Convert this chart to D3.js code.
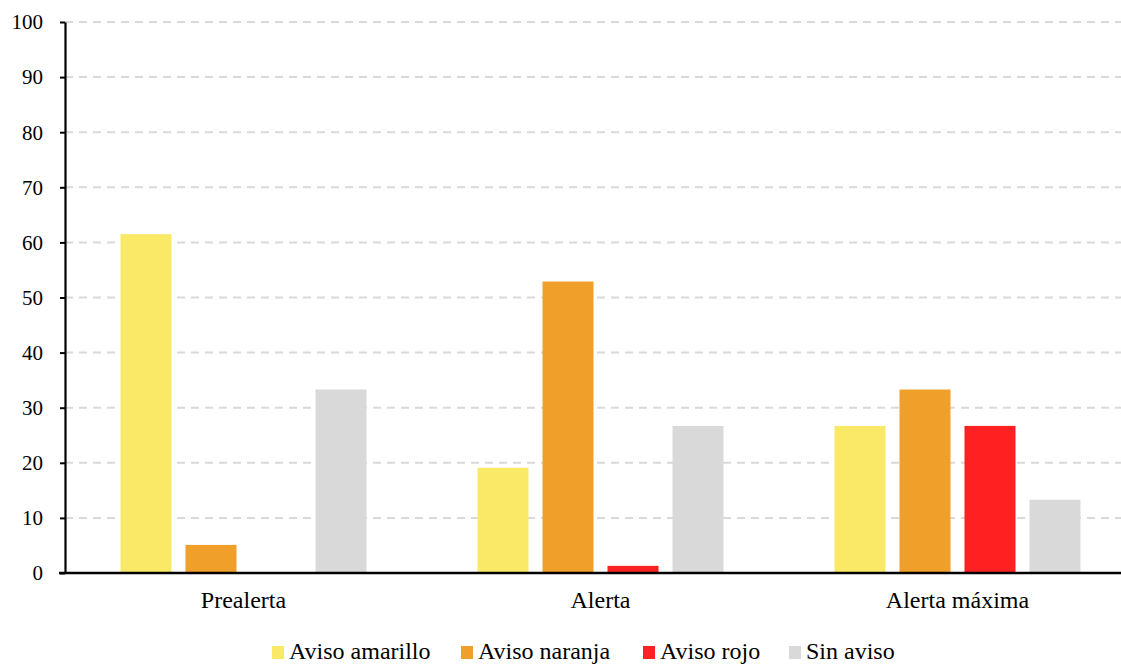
<!DOCTYPE html>
<html>
<head>
<meta charset="utf-8">
<script src="https://cdn.jsdelivr.net/npm/d3@7"></script>
</head>
<body style="margin:0">
<svg id="chart" width="1121" height="664"></svg>
<script>
// Alert levels (x categories)
const categories = ["Prealerta", "Alerta", "Alerta máxima"];

// Warning types (series) and their colours
const series = ["Aviso amarillo", "Aviso naranja", "Aviso rojo", "Sin aviso"];
const seriesColors = ["#F9E966", "#F0A02A", "#FF2121", "#D9D9D9"];

// Percentage values per series, in category order
const avisoAmarillo = [61.5, 19.1, 26.7];
const avisoNaranja  = [5.1, 52.9, 33.3];
const avisoRojo     = [0, 1.3, 26.7];
const sinAviso      = [33.3, 26.7, 13.3];
const seriesValues = [avisoAmarillo, avisoNaranja, avisoRojo, sinAviso];

// Y axis ticks
const yTicks = [0, 10, 20, 30, 40, 50, 60, 70, 80, 90, 100];

// Legend entry offsets along the bottom row
const legendX = [272, 461, 643, 789];

const FONT = "Liberation Serif";

const svg = d3.select("#chart");
const margin = { left: 65, top: 22, bottom: 573 };
const plotRight = 1136;   // last category band runs past the visible edge

const x0 = d3.scaleBand().domain(categories).range([margin.left, plotRight]);
const x1 = d3.scaleBand().domain(series)
  .range([55.5, x0.bandwidth() - 55.5])
  .paddingInner(14 / 65);
const y = d3.scaleLinear().domain([0, 100]).range([margin.bottom, margin.top]);

// Dashed horizontal gridlines
svg.append("g")
  .selectAll("line")
  .data(yTicks.filter(d => d > 0))
  .join("line")
  .attr("x1", margin.left).attr("x2", 1121)
  .attr("y1", d => y(d)).attr("y2", d => y(d))
  .attr("stroke", "#D9D9D9")
  .attr("stroke-width", 2)
  .attr("stroke-dasharray", "8,6");

// Bars
const rows = categories.map((c, i) => ({
  category: c,
  values: series.map((s, j) => ({ series: s, value: seriesValues[j][i], color: seriesColors[j] }))
}));

svg.append("g")
  .selectAll("g")
  .data(rows)
  .join("g")
  .attr("transform", d => `translate(${x0(d.category)},0)`)
  .selectAll("rect")
  .data(d => d.values.filter(v => v.value > 0))
  .join("rect")
  .attr("x", d => x1(d.series))
  .attr("width", x1.bandwidth())
  .attr("y", d => y(d.value))
  .attr("height", d => y(0) - y(d.value))
  .attr("fill", d => d.color);

// Y axis line and tick marks (labels are set separately below)
const yAxis = svg.append("g")
  .attr("transform", `translate(${margin.left},0)`)
  .call(d3.axisLeft(y).tickValues(yTicks).tickSize(5).tickSizeOuter(0).tickFormat(""));
yAxis.selectAll(".tick text").remove();
yAxis.select(".domain").attr("stroke", "#000").attr("stroke-width", 2.2);
yAxis.selectAll(".tick line").attr("stroke", "#000").attr("stroke-width", 2);

// X axis baseline
svg.append("line")
  .attr("x1", margin.left - 6).attr("x2", 1121)
  .attr("y1", y(0)).attr("y2", y(0))
  .attr("stroke", "#000").attr("stroke-width", 2.5);

// Legend swatches
series.forEach((s, j) => {
  svg.append("rect")
    .attr("x", legendX[j]).attr("y", 646)
    .attr("width", 12).attr("height", 13)
    .attr("fill", seriesColors[j]);
});

// Y tick labels
yTicks.forEach(t => {
  svg.append("text")
    .attr("x", margin.left - 22)
    .attr("y", y(t))
    .attr("dy", "0.35em")
    .attr("text-anchor", "end")
    .attr("font-size", 21)
    .style("font-family", FONT)
    .text(t);
});

// Category labels
categories.forEach(c => {
  svg.append("text")
    .attr("x", x0(c) + x0.bandwidth() / 2)
    .attr("y", 608)
    .attr("text-anchor", "middle")
    .attr("font-size", 24)
    .style("font-family", FONT)
    .text(c);
});

// Legend labels
series.forEach((s, j) => {
  svg.append("text")
    .attr("x", legendX[j] + 17)
    .attr("y", 659)
    .attr("font-size", 24)
    .style("font-family", FONT)
    .text(s);
});
</script>
</body>
</html>
